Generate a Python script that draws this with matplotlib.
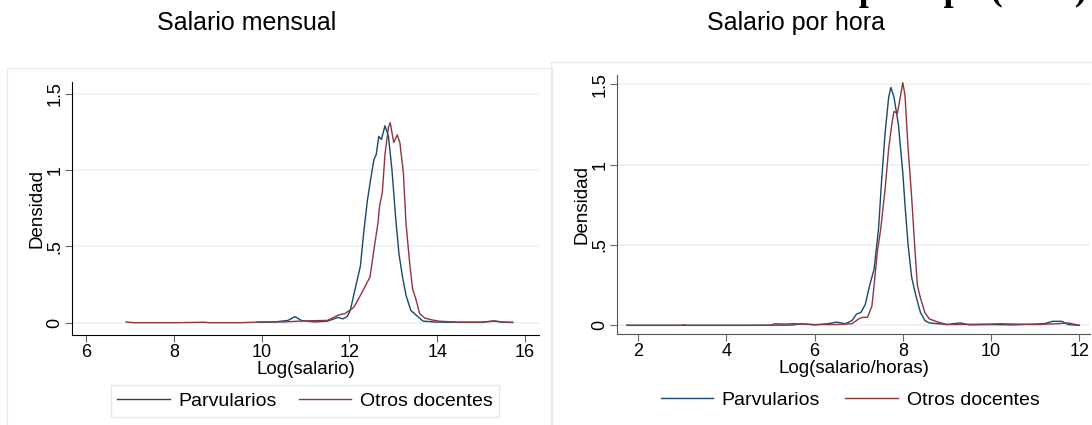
import numpy as np
import matplotlib
matplotlib.use('Agg')
from matplotlib import pyplot as plt
from matplotlib.patches import Rectangle

plt.rcParams['font.family'] = ['Liberation Sans', 'DejaVu Sans']

# Salario mensual: log(salario) vs densidad
mes_x_parv = [9.9, 10.3, 10.6, 10.76, 10.9, 11.2, 11.5, 11.65, 11.74, 11.85, 11.95,
              12.02, 12.13, 12.25, 12.33, 12.41, 12.49, 12.56, 12.61, 12.67, 12.73,
              12.81, 12.89, 12.97, 13.05, 13.13, 13.21, 13.29, 13.4, 13.52, 13.6,
              13.68, 14.0, 14.5, 15.0, 15.3, 15.5, 15.72]
mes_y_parv = [0.003, 0.005, 0.015, 0.04, 0.015, 0.005, 0.01, 0.025, 0.035, 0.025, 0.04,
              0.08, 0.22, 0.37, 0.6, 0.8, 0.95, 1.07, 1.1, 1.22, 1.2,
              1.29, 1.22, 1.0, 0.7, 0.45, 0.3, 0.18, 0.08, 0.05, 0.03,
              0.01, 0.004, 0.003, 0.003, 0.01, 0.003, 0.002]

mes_x_otros = [6.91, 7.1, 8.0, 8.7, 8.8, 9.5, 10.0, 10.5, 11.0, 11.5, 11.75, 11.9, 12.0,
               12.1, 12.29, 12.47, 12.57, 12.65, 12.69, 12.75, 12.81, 12.89, 12.93,
               13.01, 13.09, 13.15, 13.23, 13.29, 13.37, 13.44, 13.52, 13.6, 13.72,
               13.85, 14.04, 14.5, 15.0, 15.3, 15.5, 15.72]
mes_y_otros = [0.005, 0.0, 0.0, 0.003, 0.0, 0.0, 0.005, 0.005, 0.012, 0.015, 0.05, 0.06, 0.08,
               0.1, 0.2, 0.3, 0.5, 0.65, 0.77, 0.85, 1.1, 1.28, 1.31,
               1.18, 1.23, 1.18, 0.98, 0.65, 0.4, 0.22, 0.15, 0.06, 0.03,
               0.02, 0.01, 0.003, 0.003, 0.012, 0.004, 0.002]

# Salario por hora: log(salario/horas) vs densidad
hora_x_parv = [1.75, 3.0, 4.5, 5.5, 5.7, 6.0, 6.3, 6.5, 6.7, 6.85, 6.95, 7.05, 7.15, 7.25,
               7.35, 7.45, 7.52, 7.6, 7.68, 7.73, 7.8, 7.9, 8.0, 8.05, 8.12, 8.2,
               8.3, 8.4, 8.5, 8.6, 9.0, 9.3, 9.5, 10.0, 10.5, 11.2, 11.4, 11.6,
               11.75, 12.0]
hora_y_parv = [0.0, 0.0, 0.0, 0.002, 0.01, 0.003, 0.01, 0.02, 0.01, 0.03, 0.07, 0.08, 0.13, 0.25,
               0.35, 0.6, 0.9, 1.2, 1.42, 1.48, 1.42, 1.25, 0.95, 0.75, 0.5, 0.3,
               0.18, 0.08, 0.03, 0.015, 0.005, 0.015, 0.003, 0.005, 0.003, 0.01, 0.025, 0.025,
               0.005, 0.0]

hora_x_otros = [1.75, 3.0, 3.05, 3.1, 5.0, 5.1, 5.3, 5.5, 6.0, 6.5, 6.85, 7.0, 7.1, 7.2,
                7.3, 7.35, 7.42, 7.5, 7.6, 7.68, 7.75, 7.8, 7.88, 7.93, 8.0, 8.05,
                8.12, 8.2, 8.28, 8.33, 8.4, 8.5, 8.6, 8.8, 9.0, 10.0, 10.2, 11.0,
                11.5, 11.75, 12.0]
hora_y_otros = [0.0, 0.0, 0.004, 0.0, 0.0, 0.01, 0.008, 0.01, 0.005, 0.005, 0.01, 0.04, 0.05, 0.05,
                0.12, 0.25, 0.45, 0.6, 0.85, 1.1, 1.25, 1.33, 1.32, 1.4, 1.51, 1.43,
                1.1, 0.8, 0.45, 0.25, 0.17, 0.08, 0.04, 0.02, 0.005, 0.008, 0.01, 0.005,
                0.01, 0.015, 0.0]

etiquetas = ['Parvularios', 'Otros docentes']
yticks = [0, 0.5, 1, 1.5]
ytick_labels = ['0', '.5', '1', '1.5']

azul = '#1a476f'
rojo = '#90353b'
grid_col = '#eaf2f3'

fig = plt.figure(figsize=(10.92, 4.25), dpi=100)

# light frames of the two Stata graphs
fig.patches.append(Rectangle((7/1092, -0.05), (552-7)/1092, (425-68)/425 + 0.05,
                             transform=fig.transFigure, fill=False, edgecolor='#e4ecf0', lw=1))
fig.patches.append(Rectangle((551/1092, -0.05), 0.6, (425-62)/425 + 0.05,
                             transform=fig.transFigure, fill=False, edgecolor='#e4ecf0', lw=1))

ax1 = fig.add_axes([72/1092, (425-334.7)/425, 467/1092, 253/425])
ax2 = fig.add_axes([617/1092, (425-333.7)/425, 473/1092, 258.7/425])


def estilo(ax, xticks, xlim, ylim, axis_col):
    for y in yticks:
        ax.axhline(y, color=grid_col, lw=1.2, zorder=0)
    ax.set_xlim(xlim)
    ax.set_ylim(ylim)
    ax.set_xticks(xticks)
    ax.set_yticks(yticks)
    ax.set_yticklabels(ytick_labels, rotation=90, va='center')
    ax.spines['top'].set_visible(False)
    ax.spines['right'].set_visible(False)
    ax.spines['left'].set_color(axis_col)
    ax.spines['bottom'].set_color(axis_col)
    ax.tick_params(labelsize=13, length=5, color='#666666', pad=2)
    ax.tick_params(axis='y', pad=1)
    ax.set_ylabel('Densidad', fontsize=13.5, labelpad=1)
    ax.set_facecolor('none')


ax1.plot(mes_x_parv, mes_y_parv, color=azul, lw=1.0, label=etiquetas[0])
ax1.plot(mes_x_otros, mes_y_otros, color=rojo, lw=1.0, label=etiquetas[1])
estilo(ax1, [6, 8, 10, 12, 14, 16], (5.68, 16.32), (-0.0786, 1.5786), 'black')
ax1.set_xlabel('Log(salario)', fontsize=13.5, labelpad=0)

ax2.plot(hora_x_parv, hora_y_parv, color=azul, lw=1.0, label=etiquetas[0])
ax2.plot(hora_x_otros, hora_y_otros, color=rojo, lw=1.0, label=etiquetas[1])
estilo(ax2, [2, 4, 6, 8, 10, 12], (1.524, 12.242), (-0.052, 1.5575), '#555555')
ax2.set_xlabel('Log(salario/horas)', fontsize=13.5, labelpad=0)

leg1 = ax1.legend(loc='center', bbox_to_anchor=(305/1092, 1 - 401/425),
                  bbox_transform=fig.transFigure, ncol=2, fontsize=14,
                  handlelength=2.7, handletextpad=0.45, columnspacing=1.1,
                  borderpad=0.35, fancybox=False, edgecolor='#e0e8ec', framealpha=1)
leg1.get_frame().set_linewidth(1.0)
ax2.legend(loc='center', bbox_to_anchor=(850/1092, 1 - 400/425),
           bbox_transform=fig.transFigure, ncol=2, fontsize=14,
           handlelength=2.7, handletextpad=0.45, columnspacing=1.3,
           frameon=False)

fig.text(247/1092, 1 - 23/425, 'Salario mensual', fontsize=18, ha='center', va='center')
fig.text(796/1092, 1 - 23/425, 'Salario por hora', fontsize=18, ha='center', va='center')

# heading of the page above, only its lowest strip falls inside the picture
fig.text(1087/1092, 1 + 0.5/425, 'Distribución de salarios por tipo (2015)', fontsize=26,
         family=['Liberation Serif', 'DejaVu Serif'], weight='bold',
         ha='right', va='baseline')

fig.savefig('out.png', dpi=100)
